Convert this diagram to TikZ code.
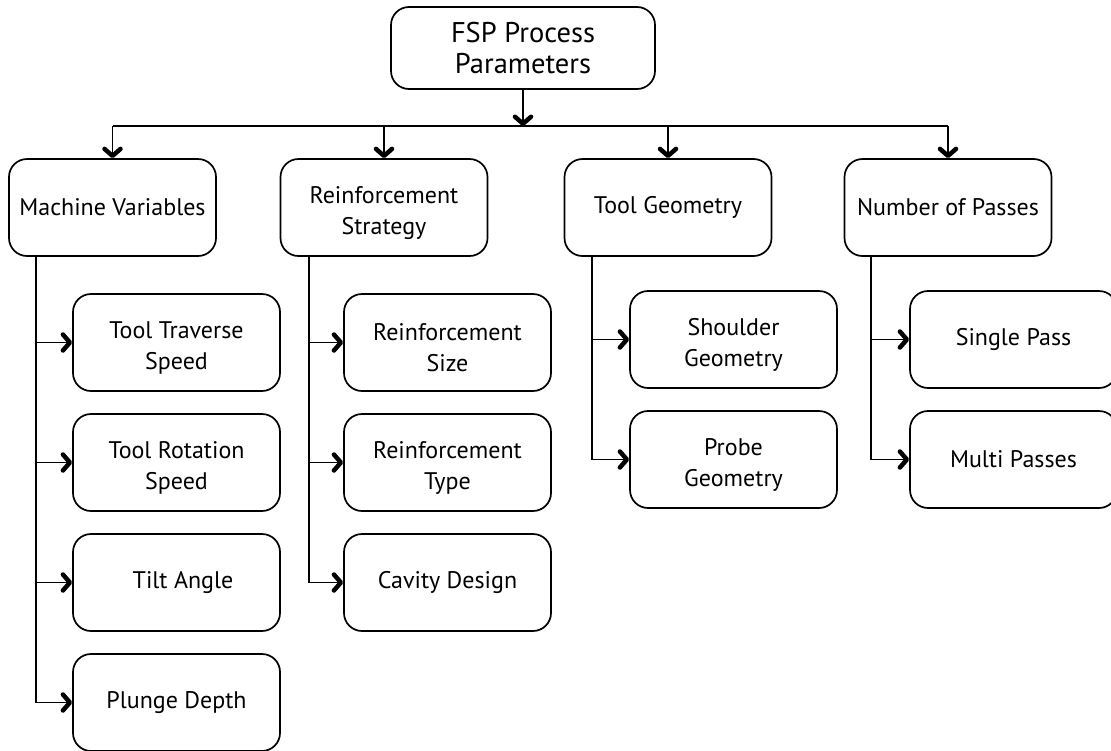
\documentclass[tikz,border=0pt]{standalone}
\usepackage{fontspec}
\setmainfont{PT Sans}
\usetikzlibrary{arrows.meta}

\tikzset{
  box/.style={draw, line width=1.7pt, rounded corners=18pt,
    minimum width=207pt, minimum height=97pt, inner sep=0pt,
    align=center, font=\fontsize{24}{31}\selectfont},
  % two-line labels sit a little low in their boxes
  twoline/.style={execute at begin node={\rule{0pt}{59pt}}},
  link/.style={line width=1.8pt},
  arr/.style={line width=1.8pt,
    -{Straight Barb[length=7pt,width=16pt,line width=4.5pt,round]}}
}

\begin{document}
\begin{tikzpicture}[x=1pt,y=-1pt]
\useasboundingbox (0,0) rectangle (1111,750);

% root
\node[box, minimum width=264pt, minimum height=82pt,
      font=\fontsize{28.5}{31}\selectfont] (fsp) at (523,48) {FSP Process\\Parameters};
\coordinate (bus) at (523,126);

% first level
\node[box] (mv) at (112.5,207.5) {Machine Variables};
\node[box, twoline] (rs) at (384,207.5) {Reinforcement\\Strategy};
\node[box] (tg) at (668,207.5)   {Tool Geometry};
\node[box] (np) at (948,207.5)   {Number of Passes};

% machine variables
\node[box, twoline] (tts) at (176.5,342.5) {Tool Traverse\\Speed};
\node[box, twoline] (trs) at (176.5,462.5) {Tool Rotation\\Speed};
\node[box] (ta)  at (176.5,582.5) {\hspace*{13pt}Tilt Angle};
\node[box] (pd)  at (176.5,702.5) {Plunge Depth};

% reinforcement strategy
\node[box, twoline] (rsz) at (447.5,342.5) {Reinforcement\\Size};
\node[box, twoline] (rty) at (447.5,462.5) {Reinforcement\\Type};
\node[box] (cd)  at (447.5,582.5) {Cavity Design};

% tool geometry
\node[box, twoline] (sg) at (733.5,339.5) {Shoulder\\Geometry};
\node[box, twoline] (pg) at (733.5,459.5) {Probe\\Geometry};

% number of passes
\node[box] (sp) at (1013.5,339.5) {Single Pass};
\node[box] (mp) at (1013.5,459.5) {Multi Passes};

% root to the bus
\draw[arr] (fsp.south) -- (bus);
\draw[link] (mv.north |- bus) -- (np.north |- bus);
\foreach \n in {mv,rs,tg,np}
  \draw[arr] (\n.north |- bus) -- (\n.north);

% branches
\foreach \c in {tts,trs,ta,pd}
  \draw[arr] ([xshift=27.5pt]mv.south west) |- (\c.west);
\foreach \c in {rsz,rty,cd}
  \draw[arr] ([xshift=29pt]rs.south west) |- (\c.west);
\foreach \c in {sg,pg}
  \draw[arr] ([xshift=28pt]tg.south west) |- (\c.west);
\foreach \c in {sp,mp}
  \draw[arr] ([xshift=27pt]np.south west) |- (\c.west);
\end{tikzpicture}
\end{document}
